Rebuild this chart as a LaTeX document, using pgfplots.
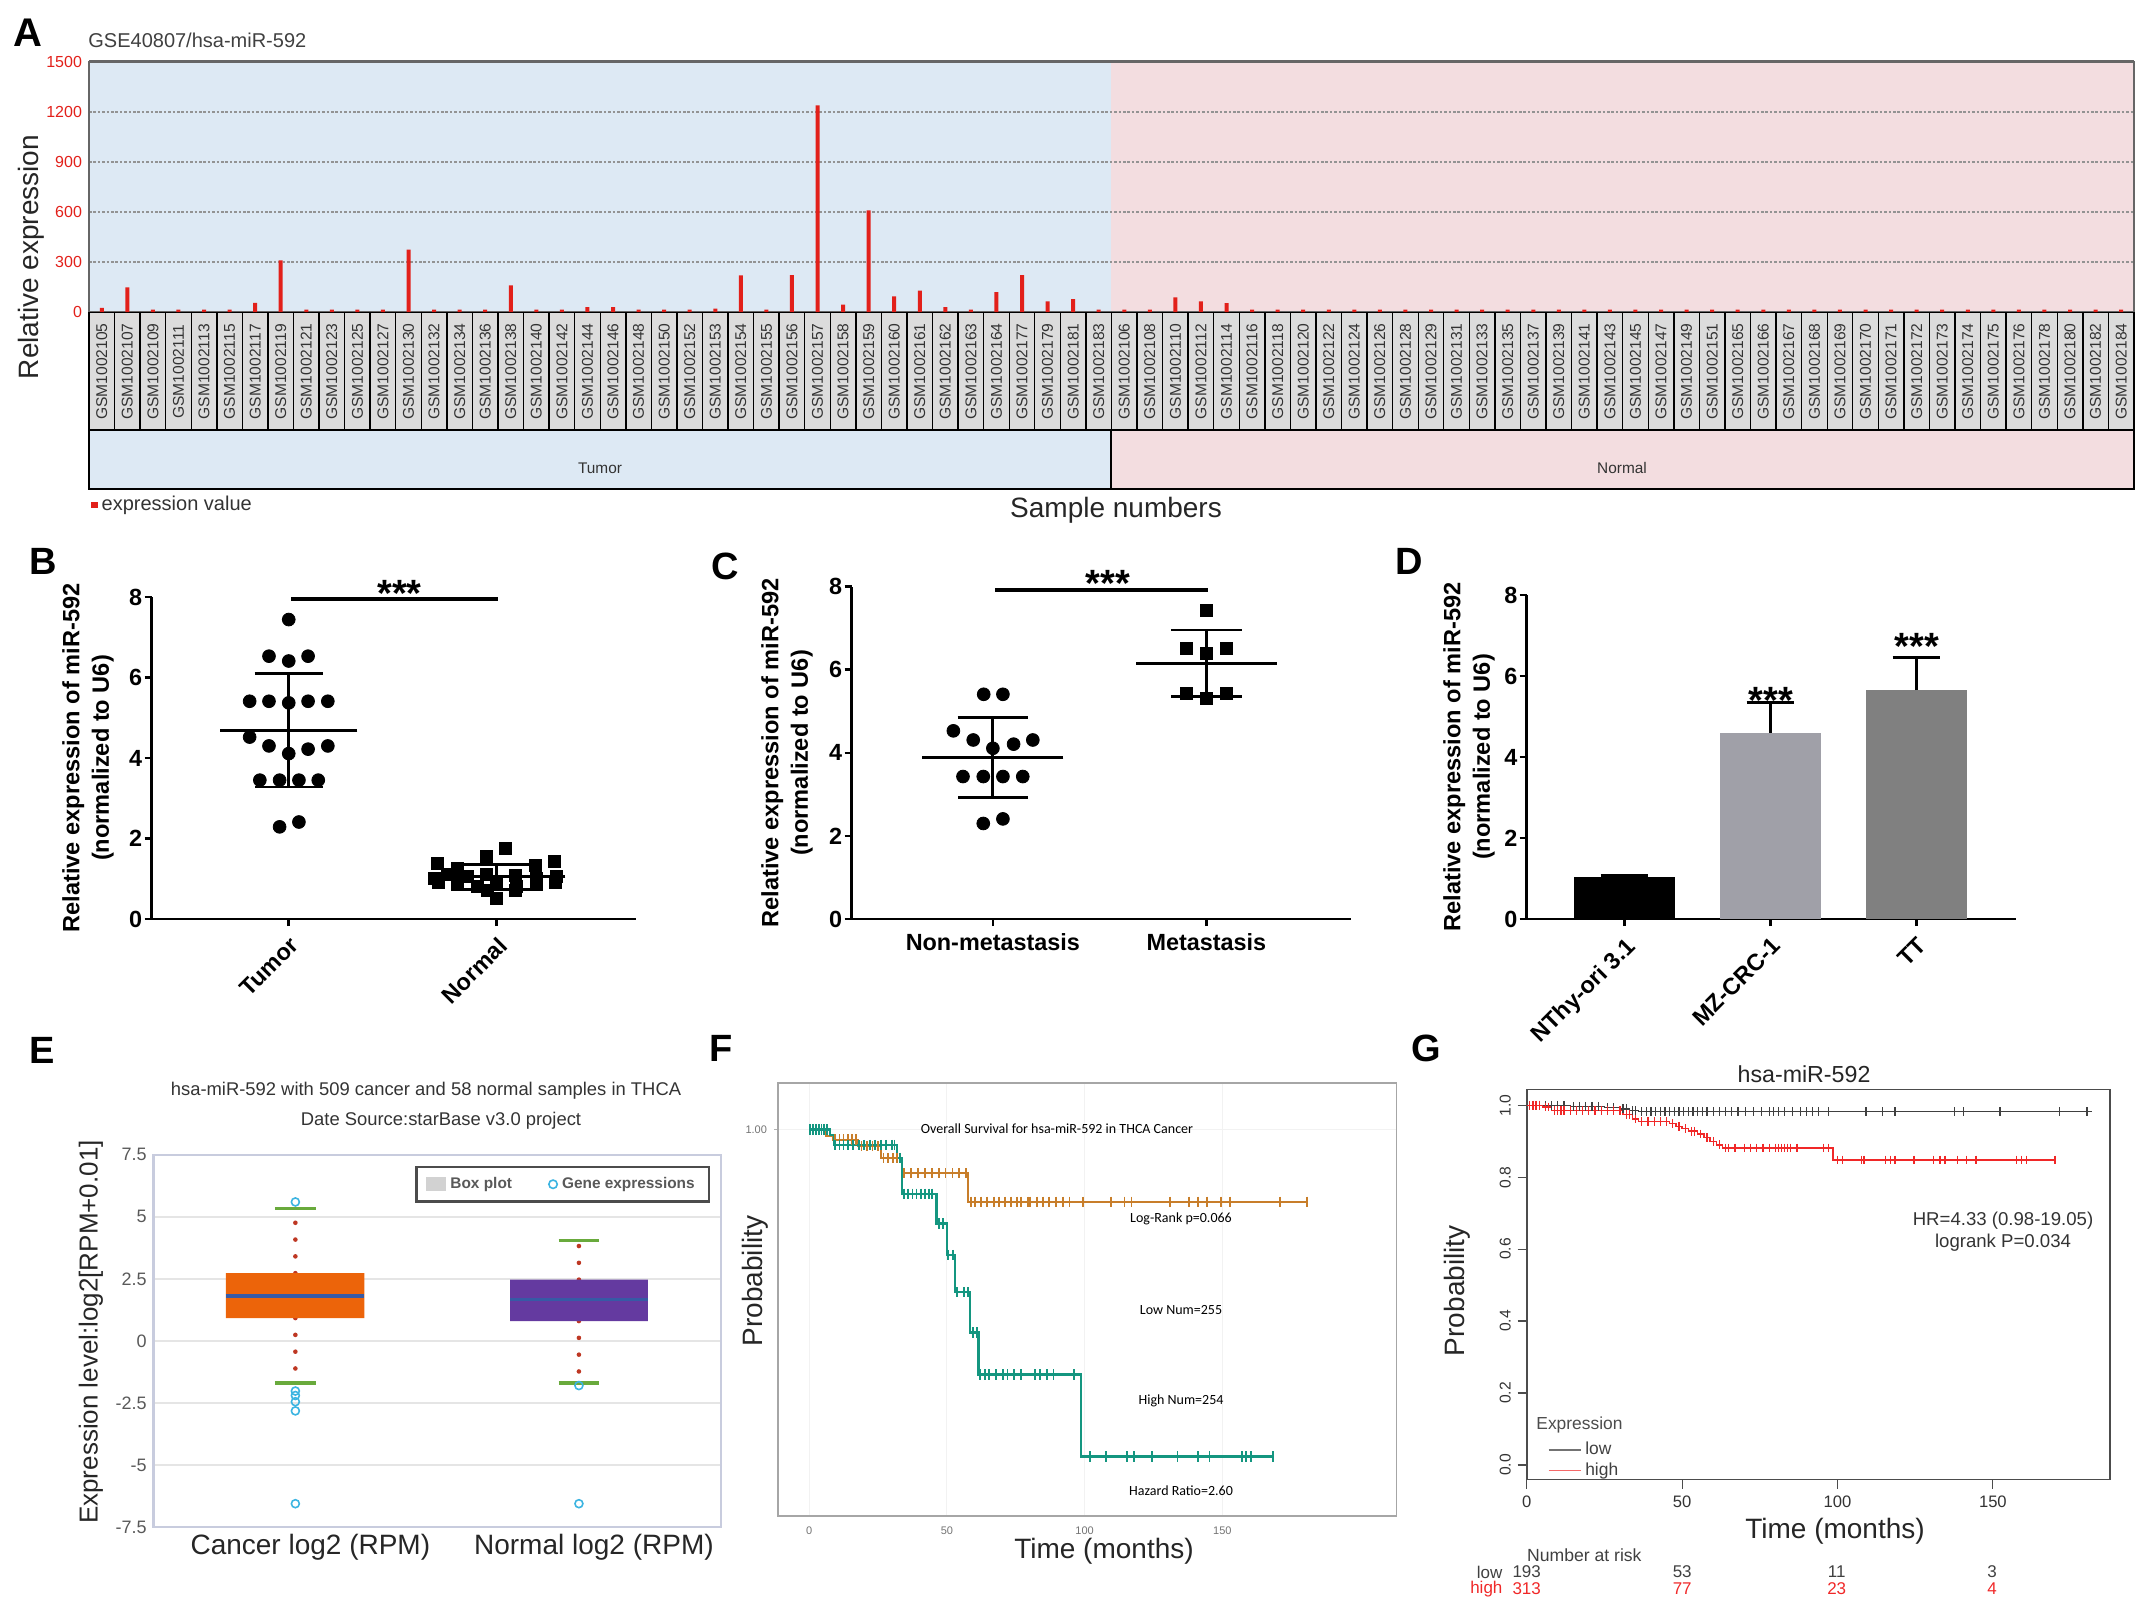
\documentclass[border=0pt]{standalone}
\usepackage{fontspec}
\setmainfont{Liberation Sans}
\newfontfamily\carlito{Carlito}
\usepackage{pgfplots}
\pgfplotsset{compat=1.18}
\newcommand\fs[1]{\fontsize{#1pt}{#1pt}\selectfont}

\definecolor{aRed}{RGB}{226,32,26}
\definecolor{aBlue}{RGB}{221,233,244}
\definecolor{aPink}{RGB}{243,221,224}
\definecolor{aBox}{RGB}{220,220,220}
\definecolor{dGrayA}{RGB}{160,160,168}
\definecolor{dGrayB}{RGB}{128,128,128}
\definecolor{eOrange}{RGB}{236,100,10}
\definecolor{ePurple}{RGB}{100,58,160}
\definecolor{eMedian}{RGB}{55,90,165}
\definecolor{eGreen}{RGB}{105,170,60}
\definecolor{eDot}{RGB}{190,55,35}
\definecolor{eCyan}{RGB}{60,180,225}
\definecolor{eFrame}{RGB}{200,204,222}
\definecolor{fOrange}{RGB}{200,126,42}
\definecolor{fTeal}{RGB}{20,150,128}
\definecolor{gRed}{RGB}{240,40,40}

\pgfplotsset{
  every axis/.append style={/pgf/number format/assume math mode=true,
    /pgf/number format/1000 sep={}},
  dotplot/.style={scale only axis, anchor=south west, clip=false,
    axis lines=left, axis line style={-, line width=1.35pt},
    tick style={black, line width=1.35pt}, tick align=outside,
    major tick length=3.5pt, ticklabel style={font=\bfseries\fs{11.7}},
    yticklabel style={inner xsep=1pt},
    ymin=0, ymax=8, ytick={0,2,4,6,8}},
  meansd/.style={black, only marks, mark=-, mark size=#1,
    mark options={line width=1.4pt}},
  sdbar/.style={error bars/.cd, y dir=both, y explicit, error mark=|,
    error bar style={line width=1.4pt},
    error mark options={mark size=#1, line width=1.4pt}},
  upbar/.style={error bars/.cd, y dir=plus, y explicit, error mark=|,
    error bar style={line width=1.4pt},
    error mark options={mark size=#1, line width=1.4pt}},
  wdots/.style={forget plot, eDot, line width=2.3pt, line cap=round,
    dash pattern=on 0pt off 8.4pt},
  wcap/.style={forget plot, eGreen, line width=1.8pt},
}

\begin{document}
\begin{tikzpicture}
\path[use as bounding box] (0,0) rectangle (1075pt,-805.5pt);

% panel A background
\begin{scope}[x=0.5pt,y=-0.5pt]
  \fill[aBlue] (89,62) rectangle (1111,312);
  \fill[aPink] (1111,62) rectangle (2134,312);
\end{scope}

% ---------- A ----------
\begin{axis}[
  at={(44.5pt,-156pt)}, anchor=south west, scale only axis,
  width=1022.5pt, height=125pt,
  xmin=0.5, xmax=80.5, ymin=0, ymax=1500,
  ytick={0,300,...,1500}, xtick={1,...,80},
  xticklabels={GSM1002105,GSM1002107,GSM1002109,GSM1002111,GSM1002113,GSM1002115,GSM1002117,GSM1002119,GSM1002121,GSM1002123,GSM1002125,GSM1002127,GSM1002130,GSM1002132,GSM1002134,GSM1002136,GSM1002138,GSM1002140,GSM1002142,GSM1002144,GSM1002146,GSM1002148,GSM1002150,GSM1002152,GSM1002153,GSM1002154,GSM1002155,GSM1002156,GSM1002157,GSM1002158,GSM1002159,GSM1002160,GSM1002161,GSM1002162,GSM1002163,GSM1002164,GSM1002177,GSM1002179,GSM1002181,GSM1002183,GSM1002106,GSM1002108,GSM1002110,GSM1002112,GSM1002114,GSM1002116,GSM1002118,GSM1002120,GSM1002122,GSM1002124,GSM1002126,GSM1002128,GSM1002129,GSM1002131,GSM1002133,GSM1002135,GSM1002137,GSM1002139,GSM1002141,GSM1002143,GSM1002145,GSM1002147,GSM1002149,GSM1002151,GSM1002165,GSM1002166,GSM1002167,GSM1002168,GSM1002169,GSM1002170,GSM1002171,GSM1002172,GSM1002173,GSM1002174,GSM1002175,GSM1002176,GSM1002178,GSM1002180,GSM1002182,GSM1002184},
  ymajorgrids, grid style={gray!85, line width=0.7pt, dash pattern=on 1.3pt off 0.9pt},
  axis line style={gray!80!black, line width=0.9pt},
  major tick length=0pt,
  yticklabel style={text=aRed, font=\fs{8}},
  xticklabel style={rotate=90, anchor=east, draw=black, line width=0.7pt,
    fill=aBox, inner sep=0pt, minimum width=59pt, minimum height=12.78pt,
    font=\fs{7.8}, text=black!80},
  ybar, bar width=2pt,
  legend style={at={(axis description cs:-0.002,-0.772)}, anchor=west,
    draw=none, fill=none, font=\fs{10}, text=black!80},
]
\addplot[fill=aRed, draw=none,
  legend image code/.code={\fill[aRed] (0pt,-1.6pt) rectangle (3.2pt,1.6pt);}]
coordinates {
(1,25) (2,148) (3,15) (4,15) (5,15) (6,15) (7,55) (8,310) (9,15) (10,15)
(11,15) (12,15) (13,375) (14,15) (15,15) (16,15) (17,160) (18,15) (19,15) (20,30)
(21,30) (22,15) (23,15) (24,15) (25,20) (26,220) (27,15) (28,222) (29,1240) (30,44)
(31,610) (32,94) (33,128) (34,30) (35,15) (36,120) (37,222) (38,64) (39,78) (40,15)
(41,15) (42,15) (43,88) (44,64) (45,54) (46,15) (47,15) (48,15) (49,15) (50,15)
(51,15) (52,15) (53,15) (54,15) (55,15) (56,15) (57,15) (58,15) (59,15) (60,15)
(61,15) (62,15) (63,15) (64,15) (65,15) (66,15) (67,15) (68,15) (69,15) (70,15)
(71,15) (72,15) (73,15) (74,15) (75,15) (76,15) (77,15) (78,15) (79,15) (80,15)
};
\addlegendentry{expression value}
\end{axis}

% ---------- B ----------
\begin{axis}[dotplot, at={(75.75pt,-459.5pt)}, width=242.25pt, height=161pt,
  xmin=0.34, xmax=2.67, xtick={1,2}, xticklabels={Tumor,Normal},
  xticklabel style={rotate=45, anchor=north east}]
\addplot[only marks, mark=*, mark size=3.2pt, black] coordinates {
(1.0,7.44) (0.905,6.53) (1.093,6.53) (1.0,6.41)
(0.812,5.41) (0.905,5.41) (1.0,5.37) (1.093,5.41) (1.188,5.41)
(0.812,4.52) (0.905,4.30) (1.093,4.22) (1.188,4.30) (1.0,4.11)
(0.861,3.45) (0.956,3.45) (1.049,3.45) (1.142,3.45)
(0.956,2.29) (1.049,2.41)};
\addplot[only marks, mark=square*, mark size=3pt, black] coordinates {
(1.717,1.38) (1.812,1.26) (1.949,1.55) (2.044,1.75) (2.184,1.34) (2.277,1.42)
(1.70,1.02) (1.765,1.10) (1.86,1.05) (1.95,1.12) (2.09,1.08) (2.19,1.00) (2.285,1.05)
(1.72,0.90) (1.81,0.85) (1.905,0.80) (2.0,0.92) (2.095,0.82) (2.19,0.86) (2.28,0.90)
(1.955,0.70) (2.0,0.51) (2.09,0.72)};
\addplot[meansd=34.3pt, sdbar=17pt]
coordinates {(1,4.69) +- (0,1.41) (2,1.05) +- (0,0.31)};
\addplot[black, line width=2pt] coordinates {(1.0125,7.94) (2.0048,7.94)};
\end{axis}

% ---------- C ----------
\begin{axis}[dotplot, at={(425.75pt,-459.5pt)}, width=249.75pt, height=166.15pt,
  xmin=0.338, xmax=2.677, xtick={1,2}, xticklabels={Non-metastasis,Metastasis}]
\addplot[only marks, mark=*, mark size=3.2pt, black] coordinates {
(0.957,5.41) (1.047,5.41) (0.815,4.53) (0.908,4.31) (1.097,4.21) (1.187,4.31)
(1.0,4.11) (0.86,3.43) (0.955,3.43) (1.047,3.43) (1.14,3.43)
(0.955,2.30) (1.047,2.41)};
\addplot[only marks, mark=square*, mark size=3pt, black] coordinates {
(2.0,7.44) (1.908,6.52) (2.095,6.52) (2.0,6.40) (1.908,5.43) (2.0,5.31) (2.095,5.43)};
\addplot[meansd=35.2pt, sdbar=17.6pt]
coordinates {(1,3.89) +- (0,0.96) (2,6.16) +- (0,0.80)};
\addplot[black, line width=2pt] coordinates {(1.01,7.92) (2.008,7.92)};
\end{axis}

% ---------- D ----------
\begin{axis}[dotplot, at={(763.35pt,-459.5pt)}, width=244.45pt, height=162pt,
  xmin=0.33, xmax=3.68, xtick={1,2,3},
  xticklabels={NThy-ori 3.1,MZ-CRC-1,TT},
  xticklabel style={rotate=45, anchor=north east},
  ybar, bar width=0.69, bar shift=0pt]
\addplot[fill=black, draw=none, upbar=11.9pt] coordinates {(1,1.045) +- (0,0.02)};
\addplot[fill=dGrayA, draw=none, upbar=11.9pt] coordinates {(2,4.60) +- (0,0.74)};
\addplot[fill=dGrayB, draw=none, upbar=11.9pt] coordinates {(3,5.65) +- (0,0.81)};
\end{axis}

% ---------- E ----------
\begin{axis}[
  at={(76.8pt,-763.5pt)}, anchor=south west, scale only axis,
  width=283.55pt, height=186.1pt,
  xmin=0.5, xmax=2.5, ymin=-7.5, ymax=7.5,
  ytick={-7.5,-5,...,7.5}, xtick={1,2},
  xticklabels={Cancer log2 (RPM),Normal log2 (RPM)},
  ymajorgrids, grid style={gray!20, line width=0.8pt},
  axis line style={eFrame, line width=1.2pt},
  major tick length=0pt,
  yticklabel style={text=black!65, font=\fs{9}},
  xticklabel style={font=\fs{14}, text=black!85, xshift=7.5pt},
  legend columns=2,
  legend style={at={(axis description cs:0.981,0.970)}, anchor=north east,
    draw=black!70, line width=1.2pt, fill=white, font=\bfseries\fs{7.7},
    text=black!65, inner xsep=5pt, inner ysep=3pt,
    /tikz/every even column/.append style={column sep=16pt}},
]
\addlegendimage{legend image code/.code={\fill[gray!35] (0pt,-2.85pt) rectangle (8.8pt,2.85pt);}}
\addlegendentry{Box plot}
\addlegendimage{legend image code/.code={\draw[eCyan, line width=0.8pt] (2.3pt,0pt) circle[radius=2.1pt];}}
\addlegendentry{Gene expressions}
% whisker dots
\addplot[wdots] coordinates {(1,2.73) (1,5.33)};
\addplot[wdots] coordinates {(1,0.92) (1,-1.69)};
\addplot[wdots] coordinates {(2,2.47) (2,4.05)};
\addplot[wdots] coordinates {(2,0.80) (2,-1.69)};
% boxes
\addplot[forget plot, fill=eOrange, draw=none]
  coordinates {(0.755,0.92) (1.243,0.92) (1.243,2.73) (0.755,2.73) (0.755,0.92)};
\addplot[forget plot, fill=ePurple, draw=none]
  coordinates {(1.757,0.80) (2.243,0.80) (2.243,2.47) (1.757,2.47) (1.757,0.80)};
\addplot[forget plot, eMedian, line width=1.9pt] coordinates {(0.755,1.82) (1.243,1.82)};
\addplot[forget plot, eMedian, line width=1.9pt] coordinates {(1.757,1.67) (2.243,1.67)};
% whisker caps
\addplot[wcap] coordinates {(0.928,5.33) (1.072,5.33)};
\addplot[wcap] coordinates {(0.928,-1.69) (1.072,-1.69)};
\addplot[wcap] coordinates {(1.928,4.05) (2.072,4.05)};
\addplot[wcap] coordinates {(1.928,-1.69) (2.072,-1.69)};
% outliers
\addplot[forget plot, only marks, mark=o, mark size=2pt, eCyan, mark options={line width=0.8pt}]
  coordinates {(1,5.6) (1,-2.02) (1,-2.2) (1,-2.45) (1,-2.82) (1,-6.56) (2,-1.8) (2,-6.56)};
\end{axis}

% ---------- F ----------
\begin{axis}[
  at={(389pt,-758pt)}, anchor=south west, scale only axis,
  width=309.25pt, height=216.5pt,
  xmin=-11.3, xmax=213.2, ymin=0, ymax=1.1205,
  xtick={0,50,100,150}, ytick={1}, yticklabels={1.00},
  xmajorgrids, ymajorgrids, grid style={gray!10, line width=0.5pt},
  axis line style={gray!70, line width=0.9pt},
  xtick style={draw=none}, ytick style={gray!60, line width=0.4pt},
  major tick length=2pt, tick align=outside, xtick pos=left, ytick pos=left,
  ticklabel style={font=\fs{5.5}, text=black!55},
]
\addplot[const plot, fOrange, line width=1.1pt] coordinates {
(0,1.0) (6.2,0.984) (8.7,0.974) (17.8,0.957) (26.2,0.926) (33.7,0.887) (57.8,0.813) (180.7,0.813)};
\addplot[const plot, fTeal, line width=1.1pt] coordinates {
(0,1.0) (7.5,0.985) (9,0.96) (32,0.926) (33.7,0.834) (46.2,0.757) (50,0.675)
(52.8,0.579) (58.3,0.475) (61.5,0.366) (98.7,0.154) (168.7,0.154)};
\addplot[only marks, mark=|, mark size=2.6pt, fOrange, mark options={line width=0.9pt}] coordinates {
(9.5,0.974) (11,0.974) (12.5,0.974) (14,0.974) (15.5,0.974) (17,0.974)
(19,0.957) (21,0.957) (23,0.957) (25,0.957)
(27,0.926) (28.7,0.926) (30.3,0.926) (32,0.926)
(34.5,0.887) (37,0.887) (39.5,0.887) (42,0.887) (44.5,0.887) (47,0.887) (49.5,0.887) (52,0.887) (54.5,0.887) (57,0.887)
(58.7,0.813) (60.3,0.813) (62.3,0.813) (64.5,0.813) (67,0.813) (69,0.813) (71.2,0.813) (73.3,0.813)
(75.3,0.813) (77,0.813) (79.5,0.813) (80.3,0.813) (82.8,0.813) (85,0.813) (87,0.813) (89.5,0.813)
(92,0.813) (94.5,0.813) (99.5,0.813) (109.5,0.813) (114.5,0.813) (117,0.813) (131,0.813) (138,0.813)
(141.2,0.813) (144.5,0.813) (149.5,0.813) (152.8,0.813) (171,0.813) (180.7,0.813)};
\addplot[only marks, mark=|, mark size=2.6pt, fTeal, mark options={line width=0.9pt}] coordinates {
(0.3,1.0) (1.5,1.0) (2.5,1.0) (3.5,1.0) (4.5,1.0) (5.5,1.0) (6.5,1.0)
(9.5,0.96) (11,0.96) (12.5,0.96) (14,0.96) (16,0.96) (18,0.96) (20,0.96) (22,0.96) (24,0.96)
(26,0.96) (28,0.96) (30,0.96) (31,0.96) (33,0.926)
(34.5,0.834) (36,0.834) (37.5,0.834) (39,0.834) (40.5,0.834) (42,0.834) (43.5,0.834) (44.5,0.834)
(47,0.757) (48.7,0.757) (50.3,0.675) (52.3,0.675) (53.7,0.579) (56.2,0.579) (57.8,0.579)
(59.5,0.475) (60.8,0.475)
(62,0.366) (63.7,0.366) (65.3,0.366) (67.8,0.366) (70.3,0.366) (72,0.366) (74.5,0.366) (77,0.366)
(82,0.366) (83.7,0.366) (86.2,0.366) (88.7,0.366) (96.2,0.366)
(102,0.154) (107.8,0.154) (115.3,0.154) (117.8,0.154) (124.5,0.154) (133.7,0.154) (141.2,0.154)
(145.3,0.154) (157,0.154) (158.7,0.154) (160.3,0.154) (168.3,0.154)};
\end{axis}

% ---------- G ----------
\begin{axis}[
  at={(763.35pt,-739.75pt)}, anchor=south west, scale only axis,
  width=291.65pt, height=194.95pt,
  xmin=0, xmax=187.7, ymin=-0.0404, ymax=1.0435,
  xtick={0,50,100,150}, ytick={0,0.2,0.4,0.6,0.8,1},
  yticklabel style={rotate=90, anchor=south, font=\fs{7.8},
    /pgf/number format/.cd, fixed, fixed zerofill, precision=1},
  xticklabel style={font=\fs{8.3}},
  ticklabel style={text=black!80},
  axis line style={black!70, line width=0.8pt},
  tick style={black!70, line width=0.6pt}, major tick length=4.5pt,
  tick align=outside, xtick pos=left, ytick pos=left,
  legend style={at={(axis description cs:0.025,0.118)}, anchor=north west,
    draw=none, fill=none, font=\fs{8.7}, text=black!75,
    row sep=-1.5pt},
  legend cell align=left,
]
\addplot[const plot, black!75, line width=0.7pt,
  legend image code/.code={\draw[black!55, line width=0.8pt] (0pt,0pt) -- (16pt,0pt);}]
coordinates {(0,1.0) (14,0.997) (25,0.993) (30,0.99) (33,0.985) (36,0.982) (181.8,0.982)};
\addlegendentry{low}
\addplot[const plot, gRed, line width=0.7pt,
  legend image code/.code={\draw[gRed!70, line width=0.8pt] (0pt,0pt) -- (16pt,0pt);}]
coordinates {(0,1.0) (5,0.995) (8,0.985) (31,0.975) (34,0.962) (36,0.955) (46,0.949) (48,0.941)
(50,0.935) (52,0.928) (55,0.92) (57,0.91) (59,0.9) (61,0.89) (63,0.881) (98.5,0.848) (170,0.848)};
\addlegendentry{high}
\addplot[forget plot, only marks, mark=|, mark size=2.2pt, black!75, mark options={line width=0.6pt}] coordinates {
(2,1.0) (4,1.0) (6,1.0) (8,1.0) (10,1.0) (12,1.0) (15,0.997) (17,0.997) (19,0.997) (21,0.997) (23,0.997)
(26,0.993) (28,0.993) (31,0.99) (32,0.99) (34,0.985) (35,0.985)
(37,0.982) (38.5,0.982) (40,0.982) (41.5,0.982) (43,0.982) (44.5,0.982) (46,0.982) (47.5,0.982)
(49,0.982) (50.5,0.982) (52,0.982) (53.5,0.982) (55,0.982) (56.5,0.982) (58,0.982) (60,0.982)
(62,0.982) (64,0.982) (66,0.982) (68,0.982) (70.5,0.982) (73,0.982) (75.5,0.982) (78,0.982)
(79.5,0.982) (81,0.982) (83,0.982) (85.5,0.982) (88,0.982) (90,0.982) (92,0.982) (94,0.982)
(97,0.982) (109.2,0.982) (114.6,0.982) (118.5,0.982) (137.7,0.982) (140.5,0.982) (152.3,0.982)
(171.5,0.982) (180.3,0.982)};
\addplot[forget plot, only marks, mark=|, mark size=2.2pt, gRed, mark options={line width=0.6pt}] coordinates {
(1,1.0) (2,1.0) (3,1.0) (4,1.0) (6,0.995) (7,0.995)
(9,0.985) (10,0.985) (11,0.985) (12,0.985) (14,0.985) (16,0.985) (18,0.985) (20,0.985) (22,0.985)
(24,0.985) (26,0.985) (28,0.985) (30,0.985) (32,0.975) (33,0.975) (35,0.962)
(37,0.955) (39,0.955) (41,0.955) (43,0.955) (45,0.955) (47,0.949) (49,0.941) (51,0.935)
(53,0.928) (54,0.928) (56,0.92) (58,0.91) (60,0.9) (62,0.89)
(64,0.881) (65,0.881) (67,0.881) (70,0.881) (72,0.881) (74,0.881) (76,0.881) (78,0.881) (80,0.881)
(81,0.881) (82,0.881) (83,0.881) (84,0.881) (85,0.881) (87,0.881) (95.4,0.881) (97,0.881)
(100,0.848) (101.5,0.848) (107.7,0.848) (108.5,0.848) (115.4,0.848) (117,0.848) (118.5,0.848)
(124.6,0.848) (130.8,0.848) (133,0.848) (134.6,0.848) (138.5,0.848) (141.5,0.848) (144.6,0.848)
(157.7,0.848) (159.2,0.848) (160.8,0.848) (170,0.848)};
\end{axis}

% ---------- texts and decorations (pixel coordinates) ----------
\begin{scope}[x=0.5pt,y=-0.5pt]
  % A
  \draw[line width=1.3pt, fill=aBlue] (89,430) rectangle (1111,489);
  \draw[line width=1.3pt, fill=aPink] (1111,430) rectangle (2134,489);
  \draw[gray!80!black, line width=1.5pt] (89,62) -- (2134,62);
  \node[font=\fs{7.7}, text=black!80] at (600,468) {Tumor};
  \node[font=\fs{7.7}, text=black!80] at (1622,468) {Normal};
  \node[font=\bfseries\fs{20}] at (28,33) {A};
  \node[anchor=west, font=\fs{10}, text=black!75, inner sep=0pt] at (88,40) {GSE40807/hsa-miR-592};
  \node[rotate=90, font=\fs{14}, text=black!85] at (31.6,257) {Relative expression};
  \node[font=\fs{14}, text=black!85] at (1116,510) {Sample numbers};
  % B, C, D
  \node[font=\bfseries\fs{19}] at (43.6,561.7) {B};
  \node[font=\bfseries\fs{19}] at (725,566.7) {C};
  \node[font=\bfseries\fs{19}] at (1409,561.7) {D};
  \node[rotate=90, align=center, font=\bfseries\fontsize{11.8pt}{14.75pt}\selectfont]
    at (88,758) {Relative expression of miR-592\\(normalized to U6)};
  \node[rotate=90, align=center, font=\bfseries\fontsize{11.8pt}{14.75pt}\selectfont]
    at (787,753) {Relative expression of miR-592\\(normalized to U6)};
  \node[rotate=90, align=center, font=\bfseries\fontsize{11.8pt}{14.75pt}\selectfont]
    at (1469,757) {Relative expression of miR-592\\(normalized to U6)};
  \node[anchor=base, font=\bfseries\fs{19}] at (399.5,606.4) {***};
  \node[anchor=base, font=\bfseries\fs{19}] at (1107.7,596.4) {***};
  \node[anchor=base, font=\bfseries\fs{19}] at (1771,713) {***};
  \node[anchor=base, font=\bfseries\fs{19}] at (1916.6,659.7) {***};
  % E
  \node[font=\bfseries\fs{19}] at (42,1050.5) {E};
  \node[font=\fs{9.2}, text=black!80] at (426,1091) {hsa-miR-592 with 509 cancer and 58 normal samples in THCA};
  \node[font=\fs{9.2}, text=black!80] at (441,1120.5) {Date Source:starBase v3.0 project};
  \node[rotate=90, font=\fs{13}, text=black!85] at (91,1332) {Expression level:log2[RPM+0.01]};
  % F
  \node[font=\bfseries\fs{19}] at (720.7,1048.6) {F};
  \node[font=\carlito\fs{7}] at (1057,1128.7) {Overall Survival for hsa-miR-592 in THCA Cancer};
  \node[font=\carlito\fs{7}] at (1181,1219) {Log-Rank p=0.066};
  \node[font=\carlito\fs{7}] at (1181,1310) {Low Num=255};
  \node[font=\carlito\fs{7}] at (1181,1400.6) {High Num=254};
  \node[font=\carlito\fs{7}] at (1181,1491) {Hazard Ratio=2.60};
  \node[rotate=90, font=\fs{14}, text=black!85] at (755,1281) {Probability};
  \node[font=\fs{14}, text=black!85] at (1104,1551) {Time (months)};
  % G
  \node[font=\bfseries\fs{19}] at (1426,1048.6) {G};
  \node[font=\fs{11.6}, text=black!85] at (1804,1074) {hsa-miR-592};
  \node[rotate=90, font=\fs{14}, text=black!85] at (1457,1290.7) {Probability};
  \node[font=\fs{14}, text=black!85] at (1835,1531) {Time (months)};
  \node[font=\fs{9.3}, text=black!80] at (2003,1221) {HR=4.33 (0.98-19.05)};
  \node[font=\fs{9.3}, text=black!80] at (2003,1242.3) {logrank P=0.034};
  \node[anchor=west, font=\fs{8.7}, text=black!70, inner sep=0pt] at (1536,1424.8) {Expression};
  \node[anchor=west, font=\fs{8.8}, text=black!75, inner sep=0pt] at (1526.7,1555) {Number at risk};
  \node[anchor=east, font=\fs{8.5}, text=black!75, inner sep=0pt] at (1502.8,1572) {low};
  \node[anchor=east, font=\fs{8.5}, text=gRed, inner sep=0pt] at (1502.8,1588.6) {high};
  \node[font=\fs{8.5}, text=black!75] at (1526.7,1572) {193};
  \node[font=\fs{8.5}, text=black!75] at (1682.2,1572) {53};
  \node[font=\fs{8.5}, text=black!75] at (1836.7,1572) {11};
  \node[font=\fs{8.5}, text=black!75] at (1992,1572) {3};
  \node[font=\fs{8.5}, text=gRed] at (1526.7,1588.6) {313};
  \node[font=\fs{8.5}, text=gRed] at (1682.2,1588.6) {77};
  \node[font=\fs{8.5}, text=gRed] at (1836.7,1588.6) {23};
  \node[font=\fs{8.5}, text=gRed] at (1992,1588.6) {4};
\end{scope}
\end{tikzpicture}
\end{document}
